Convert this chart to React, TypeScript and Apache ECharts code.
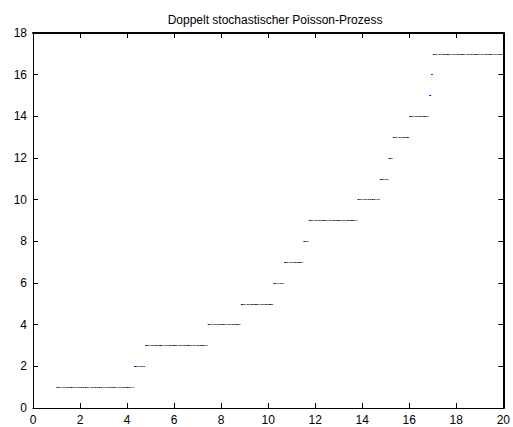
import React, { useEffect, useRef } from "react";
import * as echarts from "echarts";

const title = "Doppelt stochastischer Poisson-Prozess";
// jump times of the counting process (level k starts at jumpTimes[k-1])
const jumpTimes = [1.0, 4.3, 4.77, 7.43, 8.84, 10.22, 10.68, 11.5, 11.73, 13.8, 14.75, 15.12, 15.3, 16.0, 16.85, 16.93, 17.0];
const levels = [1, 2, 3, 4, 5, 6, 7, 8, 9, 10, 11, 12, 13, 14, 15, 16, 17];
const endTime = 20;
const dotColors = ["#0000ff", "#00b000", "#ff0000", "#00b0b0", "#e000e0", "#b0b000", "#606060"];

export default function App() {
  const ref = useRef<HTMLDivElement>(null);
  useEffect(() => {
    const chart = echarts.init(ref.current!, null, { renderer: "svg" });
    const segs = levels.map((lv, i) => ({
      coords: [
        [jumpTimes[i], lv],
        [i + 1 < jumpTimes.length ? jumpTimes[i + 1] : endTime, lv],
      ],
    }));
    const font = "Liberation Sans, Arial, sans-serif";
    const series: any[] = dotColors.map((c, i) => ({
      type: "lines",
      coordinateSystem: "cartesian2d",
      polyline: false,
      silent: true,
      data: segs,
      lineStyle: { color: c, width: 1.2, opacity: 1, type: [2, 12], dashOffset: i * 2 },
      z: 2 + i,
    }));
    const line = (w: number) => ({ show: true, onZero: false, lineStyle: { color: "#000", width: w } });
    const tick = () => ({ show: true, inside: true, length: 5, lineStyle: { color: "#000", width: 1 } });
    const label = () => ({ color: "#000", fontFamily: font, fontSize: 12, margin: 6 });
    chart.setOption({
      animation: false,
      backgroundColor: "#fff",
      title: { text: title, left: 270, textAlign: "center", top: 9, textStyle: { fontFamily: font, fontSize: 12, fontWeight: "normal", color: "#000" } },
      grid: { left: 33, right: 6, top: 33, bottom: 19 },
      xAxis: [
        { type: "value", min: 0, max: 20, interval: 2, position: "bottom", axisLine: line(1), axisTick: tick(), axisLabel: label(), splitLine: { show: false } },
        { type: "value", min: 0, max: 20, interval: 2, position: "top", axisLine: line(2), axisTick: tick(), axisLabel: { show: false }, splitLine: { show: false } },
      ],
      yAxis: [
        { type: "value", min: 0, max: 18, interval: 2, position: "left", axisLine: line(1), axisTick: tick(), axisLabel: label(), splitLine: { show: false } },
        { type: "value", min: 0, max: 18, interval: 2, position: "right", axisLine: line(2), axisTick: tick(), axisLabel: { show: false }, splitLine: { show: false } },
      ],
      series,
    });
    return () => chart.dispose();
  }, []);
  return <div ref={ref} style={{ width: 513, height: 427, position: "absolute", left: 0, top: 0 }} />;
}
